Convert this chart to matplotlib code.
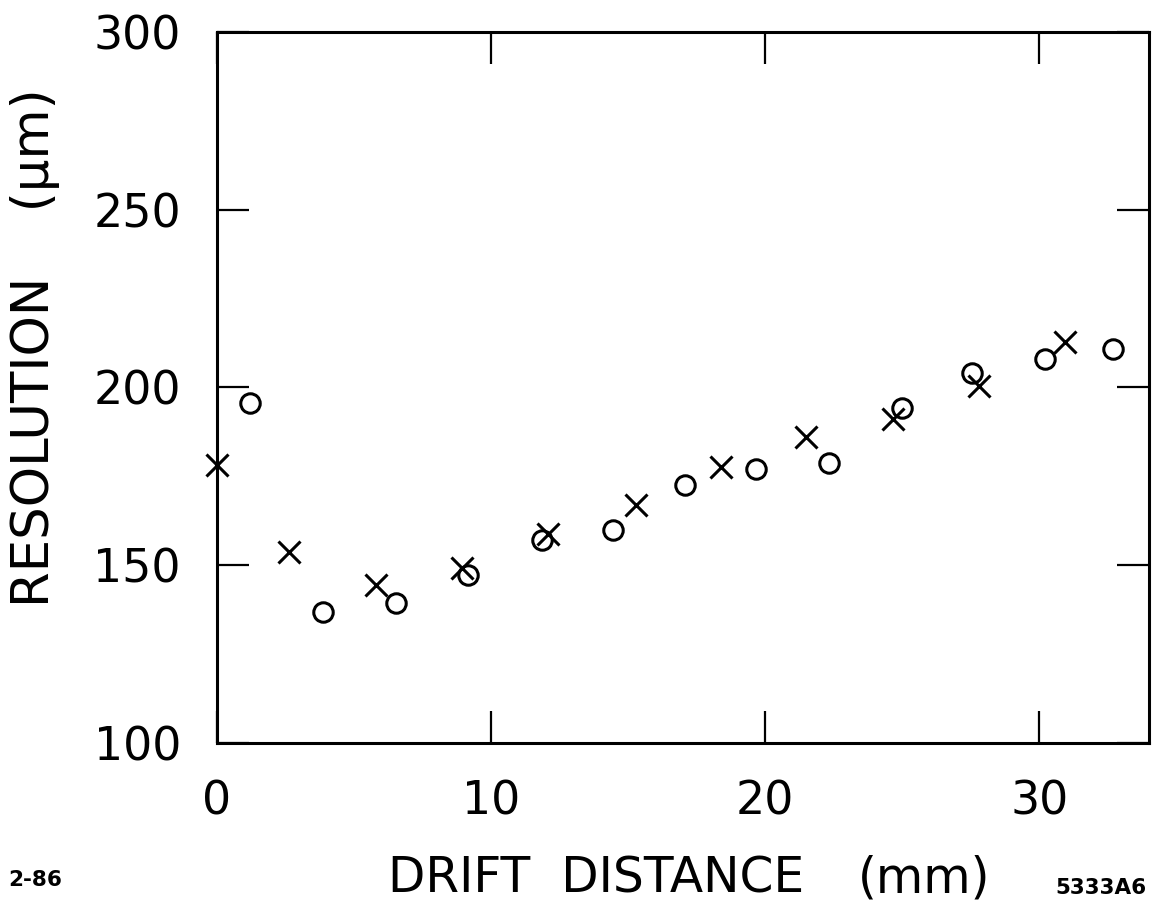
import matplotlib.pyplot as plt

# punkty - kółka
x_kolka = [1.2, 3.88, 6.53, 9.16, 11.84, 14.45, 17.06, 19.65, 22.31, 25.0, 27.54, 30.19, 32.68]
y_kolka = [195.6, 136.9, 139.3, 147.3, 157.1, 159.9, 172.6, 177.0, 178.7, 194.1, 204.0, 208.0, 210.7]

# punkty - krzyżyki
x_krzyz = [0.01, 2.64, 5.80, 8.92, 12.06, 15.30, 18.40, 21.47, 24.66, 27.79, 30.94]
y_krzyz = [178.2, 153.8, 144.4, 149.1, 158.7, 166.9, 177.7, 186.2, 191.1, 200.5, 212.7]

x_ticks = [0, 10, 20, 30]
y_ticks = [100, 150, 200, 250, 300]

fig = plt.figure(figsize=(11.52, 9.07), dpi=100)
ax = fig.add_axes([0.1884, 0.1808, 0.809, 0.784])

ax.plot(x_kolka, y_kolka, linestyle='none', marker='o', markersize=14,
        markerfacecolor='none', markeredgecolor='black', markeredgewidth=2.2, clip_on=False)
ax.plot(x_krzyz, y_krzyz, linestyle='none', marker='x', markersize=16,
        color='black', markeredgewidth=2.2, clip_on=False)

ax.set_xlim(0, 34)
ax.set_ylim(100, 300)
ax.set_xticks(x_ticks)
ax.set_yticks(y_ticks)
ax.tick_params(direction='in', length=23, width=1.6, top=True, right=True,
               labelsize=33, pad=26)

for s in ax.spines.values():
    s.set_linewidth(2.2)

# podpisy osi w miejscach jak na oryginale
fig.text(0.337, 0.0165, "DRIFT  DISTANCE", fontsize=35, ha='left', va='baseline')
fig.text(0.745, 0.0165, "(mm)", fontsize=35, ha='left', va='baseline')
fig.text(0.0304, 0.6163, "RESOLUTION    (μm)", fontsize=37,
         ha='center', va='center', rotation=90)

fig.text(0.007, 0.030, "2-86", fontsize=15.5, fontweight='bold', va='center')
fig.text(0.916, 0.021, "5333A6", fontsize=15.5, fontweight='bold', va='center')

plt.savefig("out.png", dpi=100)
